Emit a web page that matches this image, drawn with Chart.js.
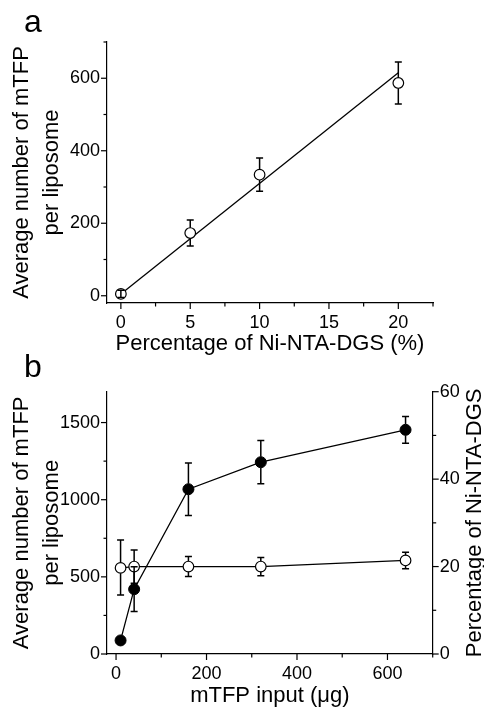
<!DOCTYPE html>
<html>
<head>
<meta charset="utf-8">
<script src="https://cdn.jsdelivr.net/npm/chart.js@4/dist/chart.umd.min.js"></script>
<style>
  body { margin: 0; background: #fff; }
  #wrap { position: relative; width: 484px; height: 708px; }
  canvas { position: absolute; left: 0; }
  #grafA { top: 0; }
  #grafB { top: 350px; }
</style>
</head>
<body>
<div id="wrap">
  <canvas id="grafA" width="484" height="358"></canvas>
  <canvas id="grafB" width="484" height="358"></canvas>
</div>
<script>
// painel a
var pctA = [0, 5, 10, 20];
var mediaA = [5, 173, 334, 587];
var erroA = [10, 36, 46, 58];
var ajusteX = [0, 20];
var ajusteY = [5, 615];
var xTicksA = [0, 2.5, 5, 7.5, 10, 12.5, 15, 17.5, 20, 22.5];
var xLabelsA = [0, 5, 10, 15, 20];
var yTicksA = [0, 100, 200, 300, 400, 500, 600, 700];
var yLabelsA = [0, 200, 400, 600];

// painel b
var inputB = [10, 40, 160, 320, 640];
var mediaB = [88, 420, 1068, 1243, 1453];
var erroB = [0, 145, 170, 140, 87];
var pctB = [19.7, 20.0, 20.0, 20.0, 21.4];
var pctErroCimaB = [6.4, 3.8, 2.3, 2.1, 1.9];
var pctErroBaixoB = [6.2, 3.8, 2.3, 2.1, 1.9];
var xTicksB = [0, 100, 200, 300, 400, 500, 600, 700];
var xLabelsB = [0, 200, 400, 600];
var yTicksB = [0, 250, 500, 750, 1000, 1250, 1500];
var yLabelsB = [0, 500, 1000, 1500];
var y2TicksB = [0, 10, 20, 30, 40, 50, 60];
var y2LabelsB = [0, 20, 40, 60];

var fonte = 'Liberation Sans, Arial, sans-serif';

function pontos(xs, ys) {
  return xs.map(function (x, i) { return { x: x, y: ys[i] }; });
}

function fixarTicks(valores) {
  return function (scale) {
    scale.ticks = valores.map(function (v) { return { value: v }; });
  };
}

function rotulos(lista) {
  return function (v) { return lista.indexOf(v) >= 0 ? String(v) : ''; };
}

function eixo(opts) {
  var e = {
    type: 'linear',
    position: opts.position,
    min: opts.min,
    max: opts.max,
    afterBuildTicks: fixarTicks(opts.ticks),
    afterFit: function (scale) {
      if (scale.isHorizontal()) scale.height = opts.size;
      else scale.width = opts.size;
    },
    grid: { display: false, drawTicks: false },
    border: { display: true, color: '#000', width: 1.2 },
    ticks: {
      autoSkip: false,
      maxRotation: 0,
      color: '#000',
      padding: opts.pad,
      font: { family: fonte, size: 18 },
      callback: rotulos(opts.labels)
    },
    title: { display: false }
  };
  if (opts.title) e.title = opts.title;
  return e;
}

// barras de erro: saem da borda do marcador (se couberem dentro, cruzam o marcador)
var barrasErro = {
  id: 'barrasErro',
  afterDatasetsDraw: function (chart) {
    var ctx = chart.ctx;
    ctx.save();
    ctx.strokeStyle = '#000';
    ctx.lineWidth = 1.5;
    chart.data.datasets.forEach(function (ds, i) {
      if (!ds.erroCima) return;
      var meta = chart.getDatasetMeta(i);
      var ys = chart.scales[meta.yAxisID];
      var r = ds.pointRadius;
      meta.data.forEach(function (pt, j) {
        var v = ds.data[j].y;
        var up = ds.erroCima[j], dn = ds.erroBaixo[j];
        if (!up && !dn) return;
        var yt = ys.getPixelForValue(v + up);
        var yb = ys.getPixelForValue(v - dn);
        var y0t = (pt.y - yt > r) ? pt.y - r : pt.y;
        var y0b = (yb - pt.y > r) ? pt.y + r : pt.y;
        ctx.beginPath();
        ctx.moveTo(pt.x, y0t); ctx.lineTo(pt.x, yt);
        ctx.moveTo(pt.x, y0b); ctx.lineTo(pt.x, yb);
        ctx.moveTo(pt.x - 3.5, yt); ctx.lineTo(pt.x + 3.5, yt);
        ctx.moveTo(pt.x - 3.5, yb); ctx.lineTo(pt.x + 3.5, yb);
        ctx.stroke();
      });
    });
    ctx.restore();
  }
};

// marcas dos ticks (maiores e menores)
function marcasTicks(maiores) {
  return {
    id: 'marcasTicks',
    afterDraw: function (chart) {
      var ctx = chart.ctx;
      ctx.save();
      ctx.strokeStyle = '#000';
      ctx.lineWidth = 1.2;
      Object.keys(maiores).forEach(function (id) {
        var s = chart.scales[id];
        s.ticks.forEach(function (t) {
          var p = s.getPixelForValue(t.value);
          var len = maiores[id].indexOf(t.value) >= 0 ? 6 : 3.5;
          ctx.beginPath();
          if (s.position === 'bottom') { ctx.moveTo(p, s.top); ctx.lineTo(p, s.top + len); }
          else if (s.position === 'left') { ctx.moveTo(s.right, p); ctx.lineTo(s.right - len, p); }
          else { ctx.moveTo(s.left, p); ctx.lineTo(s.left + len, p); }
          ctx.stroke();
        });
      });
      ctx.restore();
    }
  };
}

function letraPainel(letra, x, y) {
  return {
    id: 'letraPainel',
    afterDraw: function (chart) {
      var ctx = chart.ctx;
      ctx.save();
      ctx.fillStyle = '#000';
      ctx.font = '32px ' + fonte;
      ctx.textBaseline = 'alphabetic';
      ctx.fillText(letra, x, y);
      ctx.restore();
    }
  };
}

var tituloDireita = {
  id: 'tituloDireita',
  afterDraw: function (chart) {
    var s = chart.scales.y2;
    var ctx = chart.ctx;
    ctx.save();
    ctx.fillStyle = '#000';
    ctx.font = '22px ' + fonte;
    ctx.textAlign = 'center';
    ctx.textBaseline = 'alphabetic';
    ctx.translate(481, (s.top + s.bottom) / 2);
    ctx.rotate(-Math.PI / 2);
    ctx.fillText('Percentage of Ni-NTA-DGS', 0, 0);
    ctx.restore();
  }
};

var tituloY = {
  display: true,
  text: ['Average number of mTFP', 'per liposome'],
  color: '#000',
  font: { family: fonte, size: 22, lineHeight: 1.36 },
  padding: { top: 7, bottom: 0 }
};

// grafico a
var ctxA = document.getElementById('grafA').getContext('2d');
new Chart(ctxA, {
  type: 'line',
  data: {
    datasets: [{
      data: pontos(pctA, mediaA),
      erroCima: erroA,
      erroBaixo: erroA,
      showLine: false,
      pointRadius: 5.3,
      pointBackgroundColor: '#fff',
      pointBorderColor: '#000',
      pointBorderWidth: 1.2,
      borderColor: '#000'
    }, {
      data: pontos(ajusteX, ajusteY),
      borderColor: '#000',
      borderWidth: 1.3,
      pointRadius: 0,
      tension: 0
    }]
  },
  options: {
    responsive: false,
    animation: false,
    layout: { padding: { top: 42, right: 51, left: 0, bottom: 0 } },
    plugins: { legend: { display: false }, tooltip: { enabled: false } },
    scales: {
      x: eixo({
        position: 'bottom', min: -1, max: 22.5, ticks: xTicksA, labels: xLabelsA, size: 55, pad: 9,
        title: {
          display: true, text: 'Percentage of Ni-NTA-DGS (%)', color: '#000',
          font: { family: fonte, size: 22, lineHeight: 1 }, padding: { top: 0, bottom: 3.5 }
        }
      }),
      y: eixo({
        position: 'left', min: -20, max: 700, ticks: yTicksA, labels: yLabelsA, size: 107, pad: 7,
        title: tituloY
      })
    }
  },
  plugins: [barrasErro, marcasTicks({ x: xLabelsA, y: yLabelsA }), letraPainel('a', 24, 32)]
});

// grafico b
var ctxB = document.getElementById('grafB').getContext('2d');
new Chart(ctxB, {
  type: 'line',
  data: {
    datasets: [{
      data: pontos(inputB, pctB),
      yAxisID: 'y2',
      erroCima: pctErroCimaB,
      erroBaixo: pctErroBaixoB,
      borderColor: '#000',
      borderWidth: 1.3,
      tension: 0,
      pointRadius: 5.3,
      pointBackgroundColor: '#fff',
      pointBorderColor: '#000',
      pointBorderWidth: 1.2
    }, {
      data: pontos(inputB, mediaB),
      yAxisID: 'y',
      erroCima: erroB,
      erroBaixo: erroB,
      borderColor: '#000',
      borderWidth: 1.3,
      tension: 0,
      pointRadius: 5.5,
      pointBackgroundColor: '#000',
      pointBorderColor: '#000',
      pointBorderWidth: 1
    }]
  },
  options: {
    responsive: false,
    animation: false,
    layout: { padding: { top: 41.7, right: 0, left: 0, bottom: 0 } },
    plugins: { legend: { display: false }, tooltip: { enabled: false } },
    scales: {
      x: eixo({
        position: 'bottom', min: -20, max: 700, ticks: xTicksB, labels: xLabelsB, size: 54, pad: 9,
        title: {
          display: true, text: 'mTFP input (\u03bcg)', color: '#000',
          font: { family: fonte, size: 22, lineHeight: 1 }, padding: { top: 0, bottom: 0.6 }
        }
      }),
      y: eixo({
        position: 'left', min: 0, max: 1700, ticks: yTicksB, labels: yLabelsB, size: 107, pad: 7,
        title: tituloY
      }),
      y2: eixo({
        position: 'right', min: 0, max: 60, ticks: y2TicksB, labels: y2LabelsB, size: 51.3, pad: 7
      })
    }
  },
  plugins: [barrasErro, marcasTicks({ x: xLabelsB, y: yLabelsB, y2: y2LabelsB }), letraPainel('b', 24, 26.7), tituloDireita]
});
</script>
</body>
</html>
